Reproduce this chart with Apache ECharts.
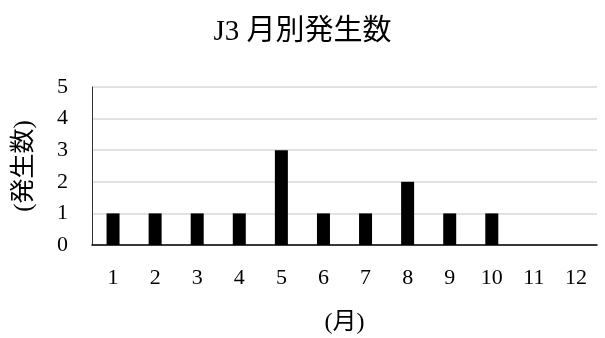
<!DOCTYPE html>
<html>
<head>
<meta charset="utf-8">
<script src="https://cdn.jsdelivr.net/npm/echarts@6/dist/echarts.min.js"></script>
<style>
  html, body { margin: 0; padding: 0; background: #fff; }
  #chart { width: 605px; height: 338px; }
</style>
</head>
<body>
<div id="chart"></div>
<script>
const months = ['1', '2', '3', '4', '5', '6', '7', '8', '9', '10', '11', '12']
const counts = [1, 1, 1, 1, 3, 1, 1, 2, 1, 1, 0, 0]
const yTicks = [0, 1, 2, 3, 4, 5]

const font = "'Liberation Serif', 'Noto Sans CJK JP', serif"

const myChart = echarts.init(document.getElementById('chart'))
const option = {
  animation: false,
  backgroundColor: '#fff',
  title: {
    text: 'J3 月別発生数',
    left: 'center',
    top: 13,
    textStyle: { fontFamily: font, fontSize: 29, fontWeight: 'normal', color: '#000' }
  },
  grid: { left: 92, right: 8, top: 87, bottom: 93 },
  xAxis: {
    type: 'category',
    data: months,
    name: '(月)',
    nameLocation: 'middle',
    nameGap: 66,
    nameTextStyle: { fontFamily: font, fontSize: 24, color: '#000' },
    axisLine: { lineStyle: { color: '#000', width: 1.5 } },
    axisTick: { show: false },
    axisLabel: { fontFamily: font, fontSize: 22, color: '#000', margin: 22 }
  },
  yAxis: {
    type: 'value',
    min: yTicks[0],
    max: yTicks[yTicks.length - 1],
    interval: 1,
    name: '(発生数)',
    nameLocation: 'middle',
    nameRotate: 90,
    nameGap: 55,
    nameTextStyle: { fontFamily: font, fontSize: 25, color: '#000' },
    axisLine: { show: true, lineStyle: { color: '#333', width: 1 } },
    axisTick: { show: false },
    axisLabel: { fontFamily: font, fontSize: 22, color: '#000', margin: 24 },
    splitLine: { lineStyle: { color: '#d9d9d9', width: 1.5 } }
  },
  series: [
    {
      type: 'bar',
      data: counts,
      barWidth: 13,
      itemStyle: { color: '#000' }
    }
  ]
}
myChart.setOption(option)
</script>
</body>
</html>
